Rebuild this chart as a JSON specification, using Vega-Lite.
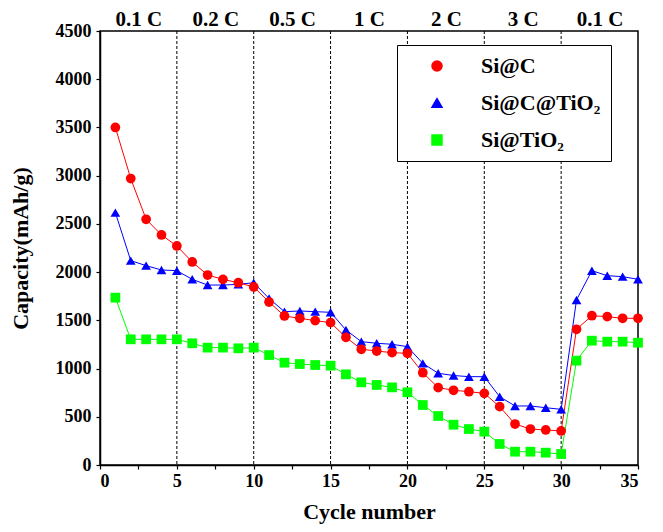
{
  "$schema": "https://vega.github.io/schema/vega-lite/v6.json",
  "width": 538,
  "height": 434,
  "autosize": {"type": "none"},
  "padding": {"left": 100, "top": 31, "right": 25, "bottom": 67},
  "background": "white",
  "config": {
    "font": "Liberation Serif",
    "view": {"stroke": "black", "strokeWidth": 1.5},
    "axis": {"grid": false, "domainColor": "black", "domainWidth": 1.5, "tickColor": "black", "tickWidth": 1.2, "labelColor": "black", "titleColor": "black", "labelFont": "Liberation Serif", "titleFont": "Liberation Serif", "labelFontWeight": "bold", "titleFontWeight": "bold"}
  },
  "datasets": {
    "rates": [{"x": 5}, {"x": 10}, {"x": 15}, {"x": 20}, {"x": 25}, {"x": 30}],
    "caps": [
      {"series": "Si@TiO₂", "cycle": 1, "capacity": 1735},
      {"series": "Si@TiO₂", "cycle": 2, "capacity": 1303},
      {"series": "Si@TiO₂", "cycle": 3, "capacity": 1303},
      {"series": "Si@TiO₂", "cycle": 4, "capacity": 1303},
      {"series": "Si@TiO₂", "cycle": 5, "capacity": 1303},
      {"series": "Si@TiO₂", "cycle": 6, "capacity": 1262},
      {"series": "Si@TiO₂", "cycle": 7, "capacity": 1217},
      {"series": "Si@TiO₂", "cycle": 8, "capacity": 1217},
      {"series": "Si@TiO₂", "cycle": 9, "capacity": 1210},
      {"series": "Si@TiO₂", "cycle": 10, "capacity": 1217},
      {"series": "Si@TiO₂", "cycle": 11, "capacity": 1140},
      {"series": "Si@TiO₂", "cycle": 12, "capacity": 1061},
      {"series": "Si@TiO₂", "cycle": 13, "capacity": 1047},
      {"series": "Si@TiO₂", "cycle": 14, "capacity": 1037},
      {"series": "Si@TiO₂", "cycle": 15, "capacity": 1030},
      {"series": "Si@TiO₂", "cycle": 16, "capacity": 940},
      {"series": "Si@TiO₂", "cycle": 17, "capacity": 857},
      {"series": "Si@TiO₂", "cycle": 18, "capacity": 830},
      {"series": "Si@TiO₂", "cycle": 19, "capacity": 805},
      {"series": "Si@TiO₂", "cycle": 20, "capacity": 754},
      {"series": "Si@TiO₂", "cycle": 21, "capacity": 622},
      {"series": "Si@TiO₂", "cycle": 22, "capacity": 508},
      {"series": "Si@TiO₂", "cycle": 23, "capacity": 418},
      {"series": "Si@TiO₂", "cycle": 24, "capacity": 373},
      {"series": "Si@TiO₂", "cycle": 25, "capacity": 346},
      {"series": "Si@TiO₂", "cycle": 26, "capacity": 218},
      {"series": "Si@TiO₂", "cycle": 27, "capacity": 138},
      {"series": "Si@TiO₂", "cycle": 28, "capacity": 138},
      {"series": "Si@TiO₂", "cycle": 29, "capacity": 128},
      {"series": "Si@TiO₂", "cycle": 30, "capacity": 114},
      {"series": "Si@TiO₂", "cycle": 31, "capacity": 1082},
      {"series": "Si@TiO₂", "cycle": 32, "capacity": 1289},
      {"series": "Si@TiO₂", "cycle": 33, "capacity": 1279},
      {"series": "Si@TiO₂", "cycle": 34, "capacity": 1279},
      {"series": "Si@TiO₂", "cycle": 35, "capacity": 1268},
      {"series": "Si@C@TiO₂", "cycle": 1, "capacity": 2617},
      {"series": "Si@C@TiO₂", "cycle": 2, "capacity": 2119},
      {"series": "Si@C@TiO₂", "cycle": 3, "capacity": 2067},
      {"series": "Si@C@TiO₂", "cycle": 4, "capacity": 2022},
      {"series": "Si@C@TiO₂", "cycle": 5, "capacity": 2015},
      {"series": "Si@C@TiO₂", "cycle": 6, "capacity": 1925},
      {"series": "Si@C@TiO₂", "cycle": 7, "capacity": 1866},
      {"series": "Si@C@TiO₂", "cycle": 8, "capacity": 1866},
      {"series": "Si@C@TiO₂", "cycle": 9, "capacity": 1873},
      {"series": "Si@C@TiO₂", "cycle": 10, "capacity": 1890},
      {"series": "Si@C@TiO₂", "cycle": 11, "capacity": 1726},
      {"series": "Si@C@TiO₂", "cycle": 12, "capacity": 1590},
      {"series": "Si@C@TiO₂", "cycle": 13, "capacity": 1597},
      {"series": "Si@C@TiO₂", "cycle": 14, "capacity": 1590},
      {"series": "Si@C@TiO₂", "cycle": 15, "capacity": 1583},
      {"series": "Si@C@TiO₂", "cycle": 16, "capacity": 1400},
      {"series": "Si@C@TiO₂", "cycle": 17, "capacity": 1279},
      {"series": "Si@C@TiO₂", "cycle": 18, "capacity": 1262},
      {"series": "Si@C@TiO₂", "cycle": 19, "capacity": 1252},
      {"series": "Si@C@TiO₂", "cycle": 20, "capacity": 1227},
      {"series": "Si@C@TiO₂", "cycle": 21, "capacity": 1054},
      {"series": "Si@C@TiO₂", "cycle": 22, "capacity": 951},
      {"series": "Si@C@TiO₂", "cycle": 23, "capacity": 928},
      {"series": "Si@C@TiO₂", "cycle": 24, "capacity": 916},
      {"series": "Si@C@TiO₂", "cycle": 25, "capacity": 916},
      {"series": "Si@C@TiO₂", "cycle": 26, "capacity": 708},
      {"series": "Si@C@TiO₂", "cycle": 27, "capacity": 612},
      {"series": "Si@C@TiO₂", "cycle": 28, "capacity": 612},
      {"series": "Si@C@TiO₂", "cycle": 29, "capacity": 594},
      {"series": "Si@C@TiO₂", "cycle": 30, "capacity": 577},
      {"series": "Si@C@TiO₂", "cycle": 31, "capacity": 1711},
      {"series": "Si@C@TiO₂", "cycle": 32, "capacity": 2015},
      {"series": "Si@C@TiO₂", "cycle": 33, "capacity": 1963},
      {"series": "Si@C@TiO₂", "cycle": 34, "capacity": 1953},
      {"series": "Si@C@TiO₂", "cycle": 35, "capacity": 1925},
      {"series": "Si@C", "cycle": 1, "capacity": 3500},
      {"series": "Si@C", "cycle": 2, "capacity": 2970},
      {"series": "Si@C", "cycle": 3, "capacity": 2548},
      {"series": "Si@C", "cycle": 4, "capacity": 2385},
      {"series": "Si@C", "cycle": 5, "capacity": 2271},
      {"series": "Si@C", "cycle": 6, "capacity": 2105},
      {"series": "Si@C", "cycle": 7, "capacity": 1970},
      {"series": "Si@C", "cycle": 8, "capacity": 1925},
      {"series": "Si@C", "cycle": 9, "capacity": 1890},
      {"series": "Si@C", "cycle": 10, "capacity": 1846},
      {"series": "Si@C", "cycle": 11, "capacity": 1690},
      {"series": "Si@C", "cycle": 12, "capacity": 1545},
      {"series": "Si@C", "cycle": 13, "capacity": 1521},
      {"series": "Si@C", "cycle": 14, "capacity": 1497},
      {"series": "Si@C", "cycle": 15, "capacity": 1476},
      {"series": "Si@C", "cycle": 16, "capacity": 1324},
      {"series": "Si@C", "cycle": 17, "capacity": 1200},
      {"series": "Si@C", "cycle": 18, "capacity": 1182},
      {"series": "Si@C", "cycle": 19, "capacity": 1165},
      {"series": "Si@C", "cycle": 20, "capacity": 1158},
      {"series": "Si@C", "cycle": 21, "capacity": 957},
      {"series": "Si@C", "cycle": 22, "capacity": 802},
      {"series": "Si@C", "cycle": 23, "capacity": 775},
      {"series": "Si@C", "cycle": 24, "capacity": 760},
      {"series": "Si@C", "cycle": 25, "capacity": 743},
      {"series": "Si@C", "cycle": 26, "capacity": 605},
      {"series": "Si@C", "cycle": 27, "capacity": 425},
      {"series": "Si@C", "cycle": 28, "capacity": 373},
      {"series": "Si@C", "cycle": 29, "capacity": 363},
      {"series": "Si@C", "cycle": 30, "capacity": 353},
      {"series": "Si@C", "cycle": 31, "capacity": 1407},
      {"series": "Si@C", "cycle": 32, "capacity": 1548},
      {"series": "Si@C", "cycle": 33, "capacity": 1538},
      {"series": "Si@C", "cycle": 34, "capacity": 1521},
      {"series": "Si@C", "cycle": 35, "capacity": 1521}
    ]
  },
  "layer": [
    {
      "data": {"name": "rates"},
      "mark": {"type": "rule", "color": "black", "strokeWidth": 1, "strokeDash": [3, 2]},
      "encoding": {
        "x": {
          "field": "x", "type": "quantitative",
          "scale": {"domain": [0, 35], "nice": false, "zero": false},
          "axis": {
            "orient": "top", "title": null, "domain": false, "ticks": false,
            "values": [2.5, 7.5, 12.5, 17.5, 22.5, 27.5, 32.5],
            "labelExpr": "['0.1 C','0.2 C','0.5 C','1 C','2 C','3 C','0.1 C'][floor(datum.value / 5)]",
            "labelFontSize": 21, "labelPadding": 2
          }
        }
      }
    },
    {
      "data": {"name": "caps"},
      "mark": {"type": "line", "strokeWidth": 1},
      "encoding": {
        "x": {
          "field": "cycle", "type": "quantitative",
          "scale": {"domain": [0, 35], "nice": false, "zero": false},
          "axis": {
            "orient": "bottom", "title": "Cycle number", "titleFontSize": 22, "titlePadding": 11,
            "values": [0, 2.5, 5, 7.5, 10, 12.5, 15, 17.5, 20, 22.5, 25, 27.5, 30, 32.5, 35],
            "labelExpr": "datum.value % 5 === 0 ? datum.label : ''",
            "labelFontSize": 18, "labelPadding": 3, "tickSize": 4,
            "encode": {"ticks": {"update": {"y2": {"value": -4}}}}
          }
        },
        "y": {
          "field": "capacity", "type": "quantitative",
          "scale": {"domain": [0, 4500], "nice": false},
          "axis": {
            "title": "Capacity(mAh/g)", "titleFontSize": 22, "titlePadding": 23,
            "values": [0, 250, 500, 750, 1000, 1250, 1500, 1750, 2000, 2250, 2500, 2750, 3000, 3250, 3500, 3750, 4000, 4250, 4500],
            "labelExpr": "datum.value % 500 === 0 ? datum.value : ''",
            "labelFontSize": 18, "labelPadding": 5, "tickSize": 4,
            "encode": {"ticks": {"update": {"x2": {"signal": "datum.value % 500 === 0 ? 8 : 3"}}}}
          }
        },
        "color": {
          "field": "series", "type": "nominal",
          "scale": {"domain": ["Si@C", "Si@C@TiO₂", "Si@TiO₂"], "range": ["#FF0000", "#0000FF", "#00FF00"]}
        }
      }
    },
    {
      "data": {"name": "caps"},
      "mark": {"type": "point", "filled": true, "opacity": 1, "size": 95},
      "encoding": {
        "x": {"field": "cycle", "type": "quantitative", "scale": {"domain": [0, 35], "nice": false, "zero": false}, "axis": null},
        "y": {"field": "capacity", "type": "quantitative", "scale": {"domain": [0, 4500], "nice": false}},
        "color": {
          "field": "series", "type": "nominal",
          "scale": {"domain": ["Si@C", "Si@C@TiO₂", "Si@TiO₂"], "range": ["#FF0000", "#0000FF", "#00FF00"]},
          "legend": {
            "title": null, "orient": "none", "legendX": 297, "legendY": 14,
            "strokeColor": "black", "fillColor": "white", "padding": 10,
            "labelFontSize": 22, "labelFont": "Liberation Serif", "labelFontWeight": "bold", "labelColor": "black",
            "symbolSize": 100, "symbolOffset": 19, "labelOffset": 33, "rowPadding": 15
          }
        },
        "shape": {
          "field": "series", "type": "nominal",
          "scale": {"domain": ["Si@C", "Si@C@TiO₂", "Si@TiO₂"], "range": ["circle", "triangle-up", "square"]}
        }
      }
    }
  ],
  "resolve": {"axis": {"x": "independent"}}
}
